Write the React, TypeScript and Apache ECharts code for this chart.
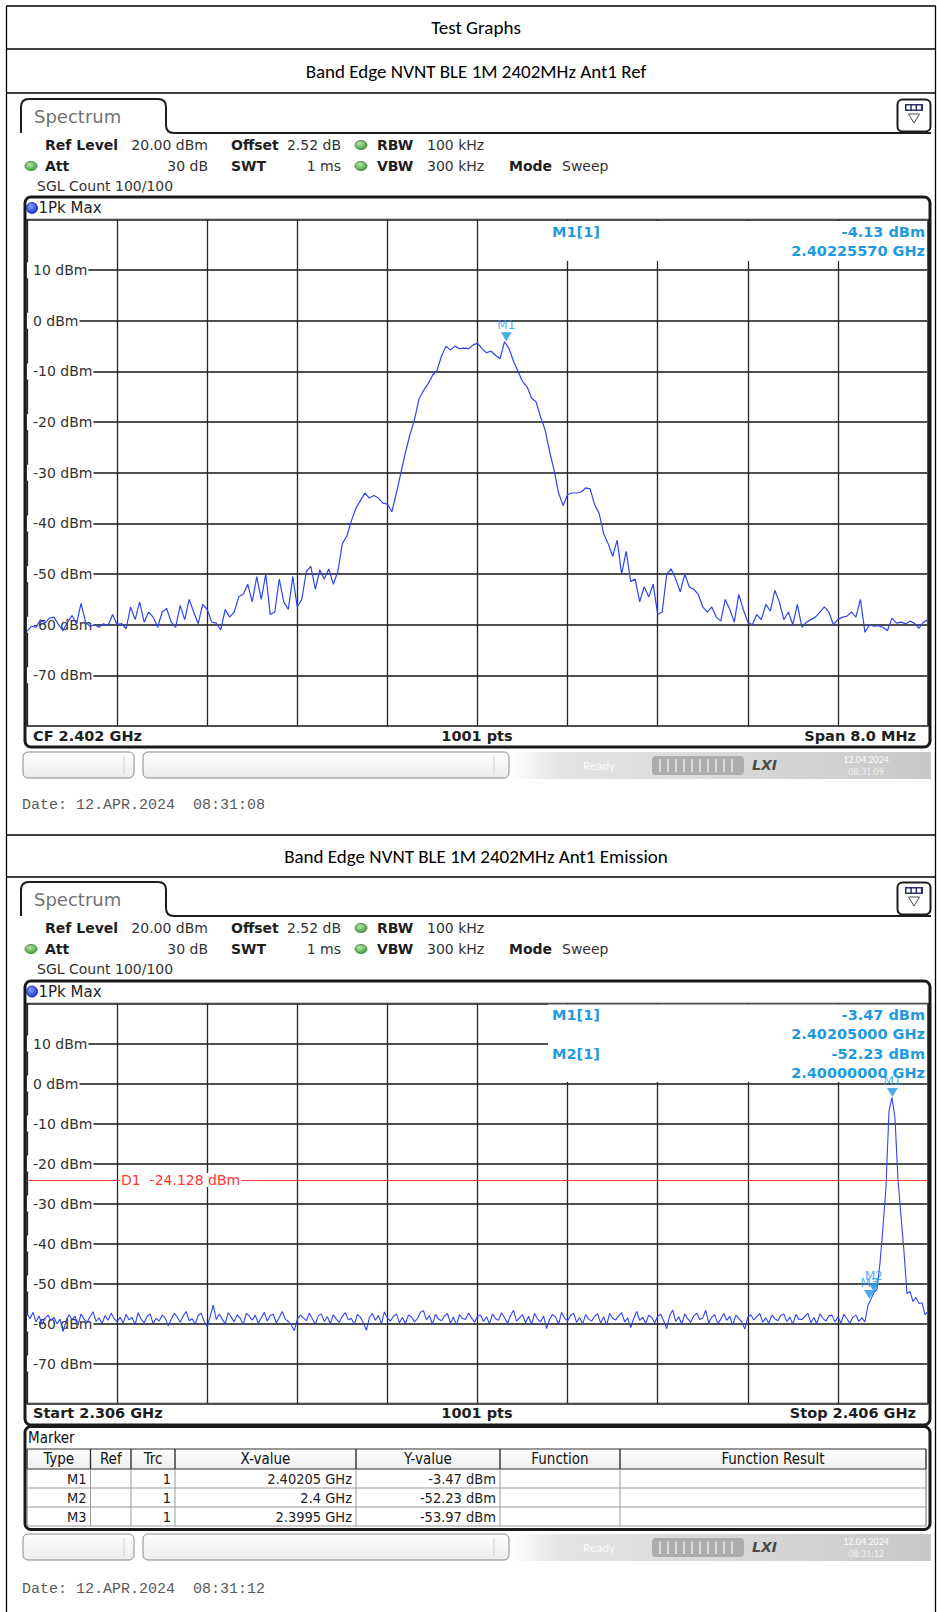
import React, { useEffect, useRef } from 'react';
import * as echarts from 'echarts';

// ---------------- DATA ----------------
const refStartGHz = 2.398;
const refSpanMHz = 8;
const refTrace_dBm = [
  -61.3, -60.3, -60.5, -59.0, -59.7, -58.7, -58.5, -60.0, -61.2, -59.5, -58.2, -59.8, -55.8, -59.5, -60.3, -60.0, -60.5, -59.8, -60.2, -58.0, -60.0,
  -59.8, -60.8, -56.5, -59.0, -55.5, -59.5, -57.5, -58.5, -60.5, -57.5, -56.8, -59.5, -60.5, -56.2, -59.0, -55.0, -57.5, -59.8, -56.0, -57.0,
  -59.5, -59.7, -61.0, -57.0, -58.5, -57.5, -54.5, -54.0, -52.0, -55.5, -50.5, -55.0, -50.0, -58.0, -57.5, -51.0, -55.5, -57.0, -50.5, -56.5,
  -55.0, -49.5, -48.5, -53.0, -49.2, -51.0, -49.0, -52.0, -49.5, -44.0, -42.5, -39.5, -37.0, -35.5, -34.0, -35.0, -34.5, -35.0, -36.0, -36.2,
  -37.7, -34.0, -30.0, -26.0, -22.5, -19.5, -15.5, -13.8, -12.5, -10.8, -9.8, -7.0, -5.0, -5.8, -5.0, -5.5, -5.4, -5.5, -4.8, -4.4,
  -5.5, -6.3, -6.0, -6.8, -7.5, -4.13, -5.5, -8.0, -10.0, -12.0, -13.0, -15.3, -16.0, -19.0, -21.5, -25.8, -29.5, -34.0, -36.5, -34.3,
  -34.0, -34.0, -33.8, -33.0, -33.2, -36.3, -38.0, -42.0, -44.0, -46.5, -43.3, -50.0, -45.5, -51.5, -51.0, -55.5, -52.5, -54.5, -52.0, -58.0,
  -57.5, -50.0, -49.0, -51.0, -53.5, -50.0, -52.5, -53.0, -54.0, -56.5, -57.5, -56.5, -58.5, -59.3, -55.0, -57.0, -59.5, -54.0, -57.0, -59.5,
  -60.0, -58.0, -59.0, -56.0, -57.3, -53.2, -55.5, -59.0, -57.5, -60.0, -56.0, -60.5, -59.5, -59.0, -58.5, -57.5, -56.5, -57.5, -60.0, -59.0,
  -58.5, -58.3, -57.5, -58.5, -55.0, -61.5, -60.0, -60.3, -60.2, -60.5, -61.2, -58.7, -59.7, -59.5, -59.8, -59.3, -59.7, -60.7, -59.5, -59.0,
];
const refMarkers = [{ name: 'M1', freqGHz: 2.4022557, level: -4.13 }];

const emiStartGHz = 2.306;
const emiSpanMHz = 100;
const emiTrace_dBm = [
  -57.5,
  -58.8, -57.2, -59.6, -58.1, -60.2, -58.7, -57.9, -59.3, -58.4, -60.1, -58.9, -62.0, -59.4, -57.8, -59.0, -58.2, -60.4, -57.6, -58.9, -59.7, -58.3, -57.1, -59.5, -58.6, -60.0, -58.0, -59.2, -57.4, -58.8, -59.6,
  -58.4, -59.9, -57.7, -59.1, -58.5, -60.3, -57.3, -58.9, -59.8, -58.2, -57.6, -60.0, -58.7, -59.4, -57.9, -58.6, -60.6, -59.0, -57.5, -58.3, -59.7, -58.1, -57.0, -59.3, -58.8, -60.2, -58.0, -57.4, -59.5, -60.8,
  -58.2, -55.4, -59.0, -57.6, -58.9, -60.1, -57.3, -58.4, -59.6, -57.8, -58.7, -60.3, -57.5, -58.1, -59.2, -57.9, -60.0, -58.6, -57.2, -59.4, -58.0, -57.7, -59.8, -58.5, -57.0, -58.9, -59.5, -60.4, -61.8, -59.0,
  -57.9, -58.6, -59.3, -57.4, -58.8, -60.2, -58.1, -57.6, -59.5, -58.3, -60.0, -57.8, -58.9, -59.7, -58.2, -57.3, -59.1, -58.7, -60.3, -57.7, -58.4, -59.9, -61.7, -58.5, -57.5, -59.2, -58.0, -60.1, -57.1, -58.6,
  -59.4, -58.2, -57.6, -59.8, -58.5, -60.0, -57.9, -58.3, -59.6, -58.8, -57.2, -56.8, -59.1, -58.0, -60.2, -57.7, -58.9, -59.3, -58.1, -57.5, -59.9, -58.4, -60.4, -57.8, -58.7, -59.0, -57.4, -58.6, -59.7, -58.2,
  -57.9, -59.5, -58.3, -60.1, -57.6, -58.8, -59.2, -57.3, -58.5, -60.0, -58.0, -56.7, -59.4, -58.6, -57.8, -59.8, -58.2, -60.3, -57.5, -58.9, -59.6, -58.1, -61.3, -59.0, -57.7, -58.4, -60.2, -57.2, -58.7, -59.3,
  -58.0, -57.4, -59.7, -58.5, -60.1, -57.8, -58.9, -59.4, -58.2, -57.6, -59.9, -58.3, -60.4, -57.5, -58.7, -59.1, -58.1, -57.3, -59.6, -58.6, -61.0, -58.8, -57.0, -59.2, -58.4, -60.0, -57.9, -58.5, -59.8, -58.2,
  -57.7, -59.3, -61.3, -58.0, -56.6, -59.5, -58.3, -60.2, -57.6, -58.8, -59.7, -58.1, -57.4, -59.0, -58.6, -56.7, -59.9, -58.4, -57.8, -60.1, -58.9, -57.5, -59.2, -58.2, -60.4, -57.9, -58.7, -59.6, -61.4, -58.5,
  -57.8, -59.1, -58.3, -57.5, -59.7, -58.6, -60.0, -57.9, -58.8, -59.3, -58.0, -57.6, -59.5, -58.4, -60.2, -57.7, -58.9, -59.0, -58.2, -57.4, -59.8, -58.5, -60.1, -57.6, -58.7, -59.4, -58.1, -57.9, -59.6, -58.3,
  -59.9, -57.7, -58.8, -60.0, -58.4, -57.9, -59.5, -58.6, -59.6, -55.5, -53.97, -52.23, -51.5, -45.0, -36.0, -26.0, -7.0, -3.47, -8.5, -24.0, -33.0, -42.0, -52.5, -52.0, -54.5, -53.5, -55.0, -54.8, -57.8, -57.0,
];
const emiMarkers = [
  { name: 'M1', freqGHz: 2.40205, level: -3.47 },
  { name: 'M2', freqGHz: 2.4, level: -52.23 },
  { name: 'M3', freqGHz: 2.3995, level: -53.97 },
];
const emiDisplayLine = { name: 'D1', level: -24.128 };

const yMin = -80;
const yMax = 20;
const yStep = 10;

const pageTitle = 'Test Graphs';
const chartTitles = ['Band Edge NVNT BLE 1M 2402MHz Ant1 Ref', 'Band Edge NVNT BLE 1M 2402MHz Ant1 Emission'];
const dateStamps = ['Date: 12.APR.2024  08:31:08', 'Date: 12.APR.2024  08:31:12'];
const statusTimes = ['08:31:09', '08:31:12'];
const markerTableHeader = ['Type', 'Ref', 'Trc', 'X-value', 'Y-value', 'Function', 'Function Result'];

// ---------------- STYLE ----------------
const FONT = '"DejaVu Sans", Verdana, sans-serif';
const DOC_FONT = 'Carlito, Calibri, Lato, sans-serif';
const TABLE_FONT = '"DejaVu Sans Condensed", "DejaVu Sans", sans-serif';
const MONO = '"Liberation Mono", "Courier New", monospace';
const TRACE = '#2f45ef';
const MARK = '#1f9ae0';

const TAB_PATH = 'M0,34 L0,8 Q0,0 8,0 L137,0 Q145,0 145,8 L145,26 Q145,34 153,34 L910,34';
let tabRegistered = false;
function registerTab() {
  if (tabRegistered) return;
  echarts.graphic.registerShape('specTab', echarts.graphic.extendPath(TAB_PATH, {}));
  tabRegistered = true;
}

function T(x: number, y: number, text: string, o: any = {}) {
  const size = o.size ?? 14;
  const align = o.align ?? 'left';
  return {
    type: 'text', x, y, z: o.z ?? 5, silent: true,
    style: {
      text,
      fill: o.fill ?? '#1e1e1e',
      font: `${o.fstyle ?? 'normal'} ${o.weight ?? 'normal'} ${size}px ${o.family ?? FONT}`,
      textAlign: align, align,
      textVerticalAlign: 'middle', verticalAlign: 'middle',
      backgroundColor: o.bg, padding: o.pad,
    },
  };
}
function R(x: number, y: number, w: number, h: number, o: any = {}) {
  return {
    type: 'rect', z: o.z ?? 2, silent: true,
    shape: { x, y, width: w, height: h, r: o.r ?? 0 },
    style: { fill: o.fill ?? 'none', stroke: o.stroke ?? null, lineWidth: o.lw ?? 1 },
  };
}
function L(x1: number, y1: number, x2: number, y2: number, o: any = {}) {
  return { type: 'line', z: o.z ?? 2, silent: true, shape: { x1, y1, x2, y2 }, style: { stroke: o.stroke ?? '#000', lineWidth: o.lw ?? 1 } };
}
function dot(cx: number, cy: number) {
  return {
    type: 'ellipse', z: 3, silent: true, shape: { cx, cy, rx: 6, ry: 4.5 },
    style: {
      fill: new echarts.graphic.RadialGradient(0.4, 0.35, 0.7, [
        { offset: 0, color: '#b8e6a8' }, { offset: 1, color: '#3f9a3a' },
      ]),
      stroke: '#3a7d36', lineWidth: 0.8,
    },
  };
}
function vGrad(a: string, b: string) {
  return new echarts.graphic.LinearGradient(0, 0, 0, 1, [{ offset: 0, color: a }, { offset: 1, color: b }]);
}

function statusBar(y: number, time: string) {
  const els: any[] = [];
  els.push(R(23, y, 111, 26, { r: 5, stroke: '#8a8a8a', lw: 1, fill: vGrad('#ffffff', '#ececec') }));
  els.push(L(124, y + 4, 124, y + 22, { stroke: '#d2d2d2' }));
  els.push(R(143, y, 366, 26, { r: 5, stroke: '#8a8a8a', lw: 1, fill: vGrad('#ffffff', '#ececec') }));
  els.push(L(494, y + 4, 494, y + 22, { stroke: '#d2d2d2' }));
  els.push(R(510, y, 421, 27, {
    fill: new echarts.graphic.LinearGradient(0, 0, 1, 0, [
      { offset: 0, color: '#ffffff' }, { offset: 0.12, color: '#e4e4e4' }, { offset: 0.6, color: '#d6d6d6' }, { offset: 1, color: '#c8c8c8' },
    ]),
  }));
  els.push(T(583, y + 13, 'Ready', { size: 13, fill: '#f8f8f8', family: DOC_FONT }));
  els.push(R(652, y + 4, 92, 19, { r: 4, fill: '#acacac' }));
  for (let k = 0; k < 10; k++) els.push(L(660 + k * 8, y + 7, 660 + k * 8, y + 20, { stroke: '#e8e8e8', lw: 1.5 }));
  els.push(T(752, y + 13, 'LXI', { size: 14, weight: 'bold', fstyle: 'italic', fill: '#4a4a4a' }));
  els.push(T(866, y + 7, '12.04.2024', { size: 10, fill: '#fcfcfc', align: 'center', family: DOC_FONT }));
  els.push(T(866, y + 19, time, { size: 10, fill: '#f0f0f0', align: 'center', family: DOC_FONT }));
  return els;
}

function screenTop(dy: number) {
  const els: any[] = [];
  els.push({ type: 'specTab', x: 21, y: 99 + dy, z: 2, silent: true, style: { fill: 'none', stroke: '#1c1c1c', lineWidth: 2 } });
  els.push(T(34, 116 + dy, 'Spectrum', { size: 18, fill: '#727272' }));
  els.push(R(897.5, 99.5 + dy, 33, 32, { r: 5, stroke: '#1c1c1c', lw: 2, fill: '#ffffff' }));
  els.push(R(905, 104 + dy, 18, 7, { fill: '#2b2f66' }));
  for (let k = 0; k < 3; k++) els.push(R(906.5 + k * 5.3, 105.5 + dy, 3.8, 4, { fill: '#ffffff', z: 3 }));
  els.push({ type: 'polygon', z: 3, silent: true, shape: { points: [[908.5, 114 + dy], [919.5, 114 + dy], [914, 123 + dy]] }, style: { fill: '#ffffff', stroke: '#4a4a5a', lineWidth: 1 } });
  const y1 = 145 + dy, y2 = 166 + dy, y3 = 186 + dy;
  els.push(T(45, y1, 'Ref Level', { weight: 'bold' }));
  els.push(T(208, y1, '20.00 dBm', { align: 'right', fill: '#333' }));
  els.push(T(231, y1, 'Offset', { weight: 'bold' }));
  els.push(T(341, y1, '2.52 dB', { align: 'right', fill: '#333' }));
  els.push(dot(361, y1));
  els.push(T(377, y1, 'RBW', { weight: 'bold' }));
  els.push(T(427, y1, '100 kHz', { fill: '#333' }));
  els.push(dot(31, y2));
  els.push(T(45, y2, 'Att', { weight: 'bold' }));
  els.push(T(208, y2, '30 dB', { align: 'right', fill: '#333' }));
  els.push(T(231, y2, 'SWT', { weight: 'bold' }));
  els.push(T(341, y2, '1 ms', { align: 'right', fill: '#333' }));
  els.push(dot(361, y2));
  els.push(T(377, y2, 'VBW', { weight: 'bold' }));
  els.push(T(427, y2, '300 kHz', { fill: '#333' }));
  els.push(T(509, y2, 'Mode', { weight: 'bold' }));
  els.push(T(562, y2, 'Sweep', { fill: '#333' }));
  els.push(T(37, y3, 'SGL Count 100/100', { fill: '#333' }));
  return els;
}

function pkMax(y: number) {
  return [
    {
      type: 'circle', z: 3, silent: true, shape: { cx: 32, cy: y, r: 5.5 },
      style: {
        fill: new echarts.graphic.RadialGradient(0.4, 0.35, 0.7, [{ offset: 0, color: '#8aa0ff' }, { offset: 1, color: '#1330d0' }]),
        stroke: '#0d1f8a', lineWidth: 0.8,
      },
    },
    T(38.5, y, '1Pk Max', { size: 15, fill: '#222' }),
  ];
}

function fmtLevel(v: number) { return `${v.toFixed(2)} dBm`; }
function fmtFreq(g: number) { return `${g.toFixed(8)} GHz`; }

function buildGraphics(d1y: number) {
  const els: any[] = [];
  // outer document table
  const rowLines = [6, 49, 93, 835, 877];
  rowLines.forEach((y) => els.push(L(6, y, 936, y, { lw: 1.3 })));
  els.push(L(6.5, 6, 6.5, 1612, { lw: 1.3 }));
  els.push(L(935.5, 6, 935.5, 1612, { lw: 1.3 }));
  els.push(T(476, 27.5, pageTitle, { size: 19, family: DOC_FONT, fill: '#000', align: 'center' }));
  els.push(T(476, 71, chartTitles[0], { size: 19, family: DOC_FONT, fill: '#000', align: 'center' }));
  els.push(T(476, 856, chartTitles[1], { size: 19, family: DOC_FONT, fill: '#000', align: 'center' }));

  // ---- screenshot 1 ----
  els.push(...screenTop(0));
  els.push(R(25, 197, 905, 550, { r: 6, stroke: '#1a1a1a', lw: 3 }));
  els.push(...pkMax(208));
  els.push(R(548, 221, 379, 40, { fill: '#ffffff', z: 1 }));
  const m = refMarkers[0];
  els.push(T(552, 232, `${m.name}[1]`, { weight: 'bold', size: 14.5, fill: MARK }));
  els.push(T(925, 232, fmtLevel(m.level), { weight: 'bold', size: 14.5, fill: MARK, align: 'right' }));
  els.push(T(925, 251, fmtFreq(m.freqGHz), { weight: 'bold', size: 14.5, fill: MARK, align: 'right' }));
  const cf = (refStartGHz + refSpanMHz / 2000).toFixed(3);
  els.push(T(33, 736, `CF ${cf} GHz`, { weight: 'bold', size: 14.5 }));
  els.push(T(477, 736, `${1001} pts`, { weight: 'bold', size: 14.5, align: 'center' }));
  els.push(T(916, 736, `Span ${refSpanMHz.toFixed(1)} MHz`, { weight: 'bold', size: 14.5, align: 'right' }));
  els.push(...statusBar(752, statusTimes[0]));
  els.push(T(22, 805, dateStamps[0], { size: 15, family: MONO, fill: '#5a5a5a' }));

  // ---- screenshot 2 ----
  const dy = 783;
  els.push(...screenTop(dy));
  els.push(R(25, 981, 905, 444, { r: 6, stroke: '#1a1a1a', lw: 3 }));
  els.push(...pkMax(991.5));
  els.push(R(548, 1004.5, 379, 77.5, { fill: '#ffffff', z: 1 }));
  emiMarkers.slice(0, 2).forEach((mk, k) => {
    const y0 = 1015 + k * 39;
    els.push(T(552, y0, `${mk.name}[1]`, { weight: 'bold', size: 14.5, fill: MARK }));
    els.push(T(925, y0, fmtLevel(mk.level), { weight: 'bold', size: 14.5, fill: MARK, align: 'right' }));
    els.push(T(925, y0 + 19, fmtFreq(mk.freqGHz), { weight: 'bold', size: 14.5, fill: MARK, align: 'right' }));
  });
  els.push(T(120, d1y, `${emiDisplayLine.name}  ${emiDisplayLine.level.toFixed(3)} dBm`, { size: 14, fill: '#ff3535', bg: '#ffffff', pad: [0, 1] }));
  els.push(T(33, 1413, `Start ${emiStartGHz.toFixed(3)} GHz`, { weight: 'bold', size: 14.5 }));
  els.push(T(477, 1413, `${1001} pts`, { weight: 'bold', size: 14.5, align: 'center' }));
  els.push(T(916, 1413, `Stop ${(emiStartGHz + emiSpanMHz / 1000).toFixed(3)} GHz`, { weight: 'bold', size: 14.5, align: 'right' }));

  // marker table
  els.push(R(25, 1426.5, 905, 103, { r: 6, stroke: '#1a1a1a', lw: 3 }));
  els.push(T(28, 1438, 'Marker', { size: 15, family: TABLE_FONT, fill: '#111' }));
  const cols = [27, 90.5, 131, 175, 356, 500, 620, 926];
  const top = 1449, headH = 20, rowH = 19;
  els.push(R(cols[0], top, cols[7] - cols[0], headH, { fill: vGrad('#ffffff', '#ededed') }));
  els.push(L(cols[0], top, cols[7], top, { stroke: '#333', lw: 1.2 }));
  els.push(L(cols[0], top + headH, cols[7], top + headH, { stroke: '#333', lw: 1.2 }));
  for (let r = 1; r <= 3; r++) els.push(L(cols[0], top + headH + r * rowH, cols[7], top + headH + r * rowH, { stroke: '#9a9a9a', lw: 1 }));
  cols.forEach((c, i) => {
    els.push(L(c, top, c, top + headH, { stroke: '#333', lw: 1.4 }));
    if (i === 0 || i === cols.length - 1) els.push(L(c, top + headH, c, top + headH + 3 * rowH, { stroke: '#666', lw: 1 }));
    else els.push(L(c, top + headH, c, top + headH + 3 * rowH, { stroke: '#9a9a9a', lw: 1 }));
  });
  markerTableHeader.forEach((h, i) => {
    els.push(T((cols[i] + cols[i + 1]) / 2, top + headH / 2, h, { size: 15, family: TABLE_FONT, align: 'center', fill: '#111' }));
  });
  emiMarkers.forEach((mk, r) => {
    const y = top + headH + r * rowH + rowH / 2;
    const cells = [mk.name, '', '1', `${mk.freqGHz} GHz`, fmtLevel(mk.level)];
    cells.forEach((c, i) => {
      if (!c) return;
      els.push(T(cols[i + 1] - 4, y, c, { size: 14.5, family: TABLE_FONT, align: 'right', fill: '#222' }));
    });
  });
  els.push(...statusBar(1534, statusTimes[1]));
  els.push(T(22, 1589, dateStamps[1], { size: 15, family: MONO, fill: '#5a5a5a' }));
  return els;
}

function makeAxes(gridIndex: number, span: number) {
  const x = {
    type: 'value', gridIndex, min: 0, max: span, interval: span / 10,
    axisLine: { show: false }, axisTick: { show: false }, axisLabel: { show: false },
    splitLine: { show: true, lineStyle: { color: '#262626', width: 1.3 } },
  };
  const y = {
    type: 'value', gridIndex, min: yMin, max: yMax, interval: yStep,
    axisLine: { show: false }, axisTick: { show: false },
    splitLine: { show: true, lineStyle: { color: '#4f4f4f', width: 1.8 } },
    axisLabel: {
      inside: true, margin: 0, showMinLabel: false, showMaxLabel: false,
      formatter: '{value} dBm', color: '#333', fontSize: 14, fontFamily: FONT,
      backgroundColor: '#ffffff', padding: [1, 1, 1, 6],
    },
  };
  return { x, y };
}

function markerSeries(idx: number, markers: any[], startGHz: number) {
  return {
    type: 'scatter', xAxisIndex: idx, yAxisIndex: idx, z: 4, silent: true,
    data: markers.map((mk) => ({ name: mk.name, value: [(mk.freqGHz - startGHz) * 1000, mk.level] })),
    symbol: 'triangle', symbolRotate: 180, symbolSize: [11, 9], symbolOffset: [0, -5],
    itemStyle: { color: MARK },
    label: { show: true, position: 'top', formatter: '{b}', color: MARK, fontSize: 12, fontFamily: FONT, distance: 1 },
  };
}

export default function App() {
  const ref = useRef<HTMLDivElement>(null);
  useEffect(() => {
    document.body.style.margin = '0';
    registerTab();
    const chart = echarts.init(ref.current!, null, { renderer: 'svg' });
    const a0 = makeAxes(0, refSpanMHz);
    const a1 = makeAxes(1, emiSpanMHz);
    const refData = refTrace_dBm.map((v, i) => [(i * refSpanMHz) / (refTrace_dBm.length - 1), v]);
    const emiData = emiTrace_dBm.map((v, i) => [(i * emiSpanMHz) / (emiTrace_dBm.length - 1), v]);
    chart.setOption({
      animation: false,
      backgroundColor: '#ffffff',
      grid: [
        { left: 27, top: 219.5, width: 901, height: 506.5, show: true, borderColor: '#2a2a2a', borderWidth: 1.5, backgroundColor: '#fff' },
        { left: 27, top: 1003.5, width: 901, height: 400, show: true, borderColor: '#2a2a2a', borderWidth: 1.5, backgroundColor: '#fff' },
      ],
      xAxis: [a0.x, a1.x],
      yAxis: [a0.y, a1.y],
      series: [
        { type: 'line', xAxisIndex: 0, yAxisIndex: 0, data: refData, showSymbol: false, symbol: 'none', silent: true, z: 3, lineStyle: { color: TRACE, width: 1.2 } },
        markerSeries(0, refMarkers, refStartGHz),
        {
          type: 'line', xAxisIndex: 1, yAxisIndex: 1, data: emiData, showSymbol: false, symbol: 'none', silent: true, z: 3,
          lineStyle: { color: TRACE, width: 1.1 },
          markLine: {
            silent: true, symbol: 'none', label: { show: false },
            lineStyle: { color: '#ff3b3b', width: 1.2, type: 'solid' },
            data: [{ yAxis: emiDisplayLine.level }],
          },
        },
        markerSeries(1, emiMarkers, emiStartGHz),
      ],
    });
    const p = chart.convertToPixel({ gridIndex: 1 }, [0, emiDisplayLine.level]) as any;
    const d1y = Array.isArray(p) ? p[1] : 1180;
    chart.setOption({ graphic: { elements: buildGraphics(d1y) } });
    return () => chart.dispose();
  }, []);
  return <div ref={ref} style={{ width: 937, height: 1612 }} />;
}
